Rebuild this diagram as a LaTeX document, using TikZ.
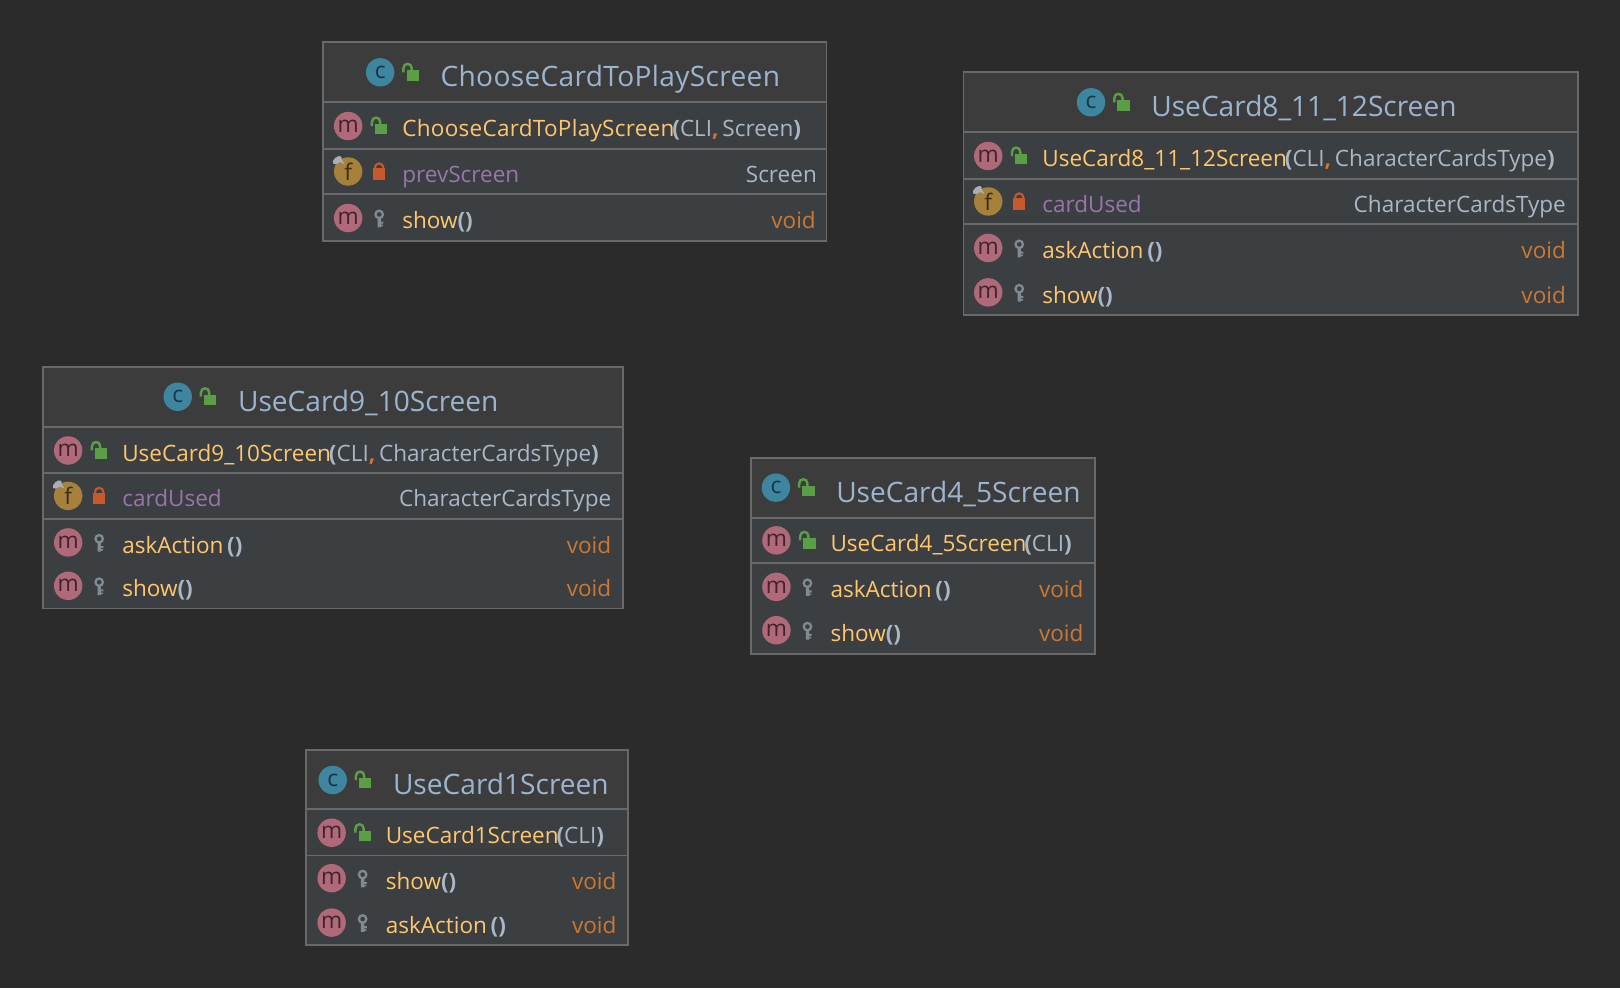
\documentclass[tikz,border=0pt]{standalone}
\usepackage{fontspec}
\setmainfont{Open Sans}
\definecolor{bgdark}{HTML}{2B2B2B}
\definecolor{headfill}{HTML}{3C3C3C}
\definecolor{rowfill}{HTML}{3C3F41}
\definecolor{framecol}{HTML}{696969}
\definecolor{titlecol}{HTML}{9CB4D0}
\definecolor{typecol}{HTML}{A9B7C6}
\definecolor{methcol}{HTML}{FFC66D}
\definecolor{fieldcol}{HTML}{9876AA}
\definecolor{voidcol}{HTML}{CC7832}
\definecolor{ccol}{HTML}{3E86A0}
\definecolor{mcol}{HTML}{B0697A}
\definecolor{fcol}{HTML}{A5813B}
\definecolor{greencol}{HTML}{5A9E46}
\definecolor{redcol}{HTML}{C75A2C}
\definecolor{keycol}{HTML}{7F8B91}
\definecolor{pincol}{HTML}{A8B0B5}
\tikzset{
  badge/.style={circle,minimum size=13.75pt,inner sep=0pt,font=\fontsize{11}{11}\selectfont},
  cbadge/.style={badge,fill=ccol,text=ccol!40!black},
  mbadge/.style={badge,fill=mcol,text=mcol!35!black},
  fbadge/.style={badge,fill=fcol,text=fcol!35!black},
  titletext/.style={anchor=base west,inner sep=0pt,text=titlecol,font=\fontsize{13.6}{13.6}\selectfont},
  rowtext/.style={anchor=base west,inner sep=0pt,font=\fontsize{10.9}{10.9}\selectfont},
  typetext/.style={anchor=base east,inner sep=0pt,font=\fontsize{10.9}{10.9}\selectfont},
  sepline/.style={draw=framecol,line width=0.9pt}
}
\newcommand{\openlock}[2]{\fill[greencol] (#1-4,#2-2) rectangle (#1+8,#2+8);
  \draw[greencol,line width=1.2pt] (#1-7,#2) -- (#1-7,#2-4) .. controls (#1-7,#2-9.5) and (#1+1,#2-9.5) .. (#1+1,#2-4) -- (#1+1,#2-1);}
\newcommand{\shutlock}[2]{\fill[redcol] (#1-6,#2-3) rectangle (#1+6,#2+8);
  \draw[redcol,line width=1pt] (#1-4,#2-2) -- (#1-4,#2-3) .. controls (#1-4,#2-9.5) and (#1+4,#2-9.5) .. (#1+4,#2-3) -- (#1+4,#2-2);}
\newcommand{\keyicon}[2]{\draw[keycol,line width=1.1pt] (#1,#2-3.5) circle (1.8pt);
  \fill[keycol] (#1-1.6,#2) rectangle (#1+1.6,#2+9) (#1,#2+3.5) rectangle (#1+4,#2+5.5) (#1,#2+6.5) rectangle (#1+3.5,#2+8);}
\newcommand{\frameA}[6]{% left, top, right, bottom, header bottom
  \fill[rowfill] (#1,#5) rectangle (#3,#4);
  \fill[headfill] (#1,#2) rectangle (#3,#5);
  \draw[sepline] (#1,#5) -- (#3,#5);
  \foreach \s in {#6}{\draw[sepline] (#1,\s) -- (#3,\s);}
  \draw[sepline] (#1,#2) rectangle (#3,#4);}
\newcommand{\classhead}[4]{% id, badge x, top, name
  \node[cbadge] (#1c) at (#2,#3+29) {c};
  \openlock{#2+29.5}{#3+29}
  \node[titletext] (#1t) at (#2+58,#3+43) {#4};}
\newcommand{\rowbadge}[4]{% id, kind, left, y
  \node[#2badge] (#1) at (#3+24.5,#4) {#2};}
\newcommand{\openparen}{\textcolor{typecol}{\textbf{(}}}
\newcommand{\shutparen}{\textcolor{typecol}{\textbf{)}}}
\newcommand{\comma}{\textcolor{voidcol}{\textbf{,}}\,}
\newcommand{\widen}{\addfontfeature{LetterSpace=1.2}}
\newcommand{\ctorrow}[5]{% id, left, y, name, params
  \rowbadge{#1}{m}{#2}{#3}
  \openlock{#2+54.5}{#3}
  \node[rowtext,text=methcol] (#1n) at (#2+76.5,#3+10.5) {#4\kern-1pt\openparen\textcolor{typecol}{#5}\shutparen};}
\newcommand{\fieldrow}[6]{% id, left, right, y, name, type
  \rowbadge{#1}{f}{#2}{#4}
  \fill[pincol,rotate around={40:(#2+14,#4-11)}] (#2+14,#4-11) ellipse (2.6pt and 1.5pt);
  \fill[pincol] (#2+15,#4-10) -- (#2+21,#4-7) -- (#2+18,#4-12) -- cycle;
  \shutlock{#2+54.5}{#4}
  \node[rowtext,text=fieldcol] (#1n) at (#2+76.5,#4+10.5) {#5};
  \node[typetext,text=typecol] (#1v) at (#3-10,#4+10.5) {#6};}
\newcommand{\methrow}[6]{% id, left, right, y, name, spacing
  \rowbadge{#1}{m}{#2}{#4}
  \keyicon{#2+54.5}{#4}
  \node[rowtext,text=methcol] (#1n) at (#2+76.5,#4+10.5) {#5#6\textcolor{typecol}{\textbf{()}}};
  \node[typetext,text=voidcol] (#1v) at (#3-10,#4+10.5) {void};}
\begin{document}
\begin{tikzpicture}[x=0.5pt,y=-0.5pt]
  \fill[bgdark] (0,0) rectangle (1568,956.3);
  \useasboundingbox (0,0) rectangle (1568,956.3);
  % ChooseCardToPlayScreen
  \frameA{312.5}{41}{800}{233}{99}{144,188}
  \classhead{cho}{368}{41}{\widen ChooseCardToPlayScreen}
  \ctorrow{choa}{312.5}{122}{{\widen ChooseCardToPlayScreen}}{CLI\comma Screen}
  \fieldrow{chof}{312.5}{801}{166}{prevScreen}{Screen}
  \methrow{chob}{312.5}{800}{211}{show}{}
  % UseCard8_11_12Screen
  \frameA{932.5}{70}{1527}{305}{128}{173,217}
  \classhead{ua}{1056}{70}{UseCard8\_11\_12Screen}
  \ctorrow{uaa}{932}{151}{UseCard8\_11\_12Screen}{CLI\comma CharacterCardsType}
  \fieldrow{uaf}{932}{1526}{195}{cardUsed}{CharacterCardsType}
  \methrow{uac}{932}{1526}{240}{askAction}{\,}
  \methrow{uad}{932}{1526}{283}{show}{}
  % UseCard9_10Screen
  \frameA{41.5}{355}{603}{589}{413}{458,502}
  \classhead{ub}{172}{355}{UseCard9\_10Screen}
  \ctorrow{uba}{41.5}{436}{UseCard9\_10Screen}{CLI\comma CharacterCardsType}
  \fieldrow{ubf}{41.5}{602}{480}{cardUsed}{CharacterCardsType}
  \methrow{ubc}{41.5}{602}{525}{askAction}{\,}
  \methrow{ubd}{41.5}{602}{567}{show}{}
  % UseCard4_5Screen
  \frameA{727}{443}{1060}{633}{501}{545}
  \classhead{uc}{751}{443}{UseCard4\_5Screen}
  \ctorrow{uca}{727}{523}{UseCard4\_5Screen}{CLI}
  \methrow{ucb}{727}{1059}{568}{askAction}{\,}
  \methrow{ucc}{727}{1059}{610}{show}{}
  % UseCard1Screen
  \frameA{296}{726}{608}{915}{783}{828}
  \classhead{ud}{322}{726}{UseCard1Screen}
  \ctorrow{uda}{296.5}{806}{UseCard1Screen}{CLI}
  \methrow{udb}{296.5}{607}{850}{show}{}
  \methrow{udc}{296.5}{607}{893}{askAction}{\,}
\end{tikzpicture}
\end{document}
